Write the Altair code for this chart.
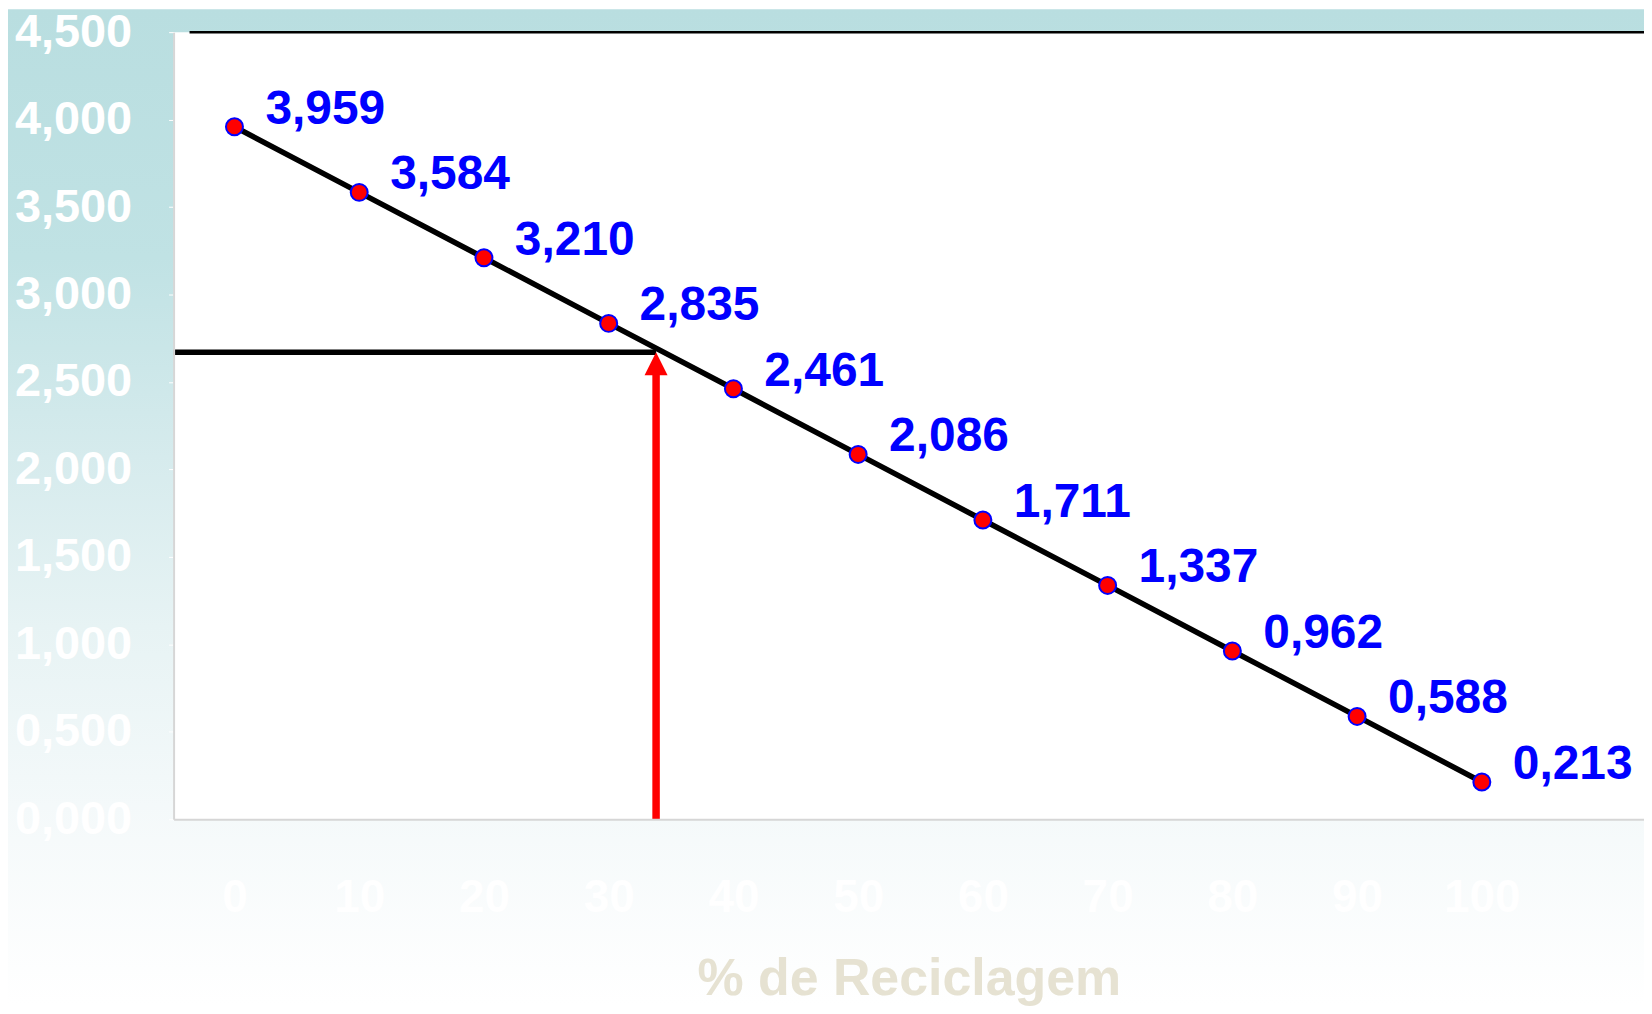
import altair as alt
import pandas as pd

# ---- data ----
reciclagem = [0, 10, 20, 30, 40, 50, 60, 70, 80, 90, 100]
valores = [3.959, 3.584, 3.210, 2.835, 2.461, 2.086, 1.711, 1.337, 0.962, 0.588, 0.213]
y_ticks = [0, 0.5, 1.0, 1.5, 2.0, 2.5, 3.0, 3.5, 4.0, 4.5]
x_ticks = [0, 10, 20, 30, 40, 50, 60, 70, 80, 90, 100]
x_domain = [-4.88, 113.0]
y_domain = [0, 4.5]
ref_x = 33.8   # % de reciclagem marcado pela seta
ref_y = 2.67   # valor lido no eixo

W, H = 1474, 789
PAD = {"left": 166, "top": 23, "right": 0, "bottom": 186}

df = pd.DataFrame({"x": reciclagem, "v": valores})
ref_h = pd.DataFrame({"x": [x_domain[0]], "x2": [ref_x], "y": [ref_y]})
ref_v = pd.DataFrame({"x": [ref_x], "y": [0], "y2": [ref_y]})
one = pd.DataFrame({"a": [0]})

xs = alt.Scale(domain=x_domain, nice=False, zero=False)
ys = alt.Scale(domain=y_domain, nice=False, zero=True)

FONT = "Liberation Sans"

x_axis = alt.Axis(
    values=x_ticks, ticks=False, grid=False, zindex=1,
    labelColor="#ffffff", labelFont=FONT, labelFontSize=46, labelFontWeight="bold",
    labelPadding=92, labelBaseline="alphabetic",
    domainColor="#d6d6d6", domainWidth=2,
    title="% de Reciclagem", titleColor="#E6E2D2", titleFont=FONT, titleFontSize=52,
    titleFontWeight="bold", titleBaseline="alphabetic", titleY=176,
)
y_axis = alt.Axis(
    values=y_ticks, grid=False, zindex=1,
    labelExpr="replace(format(datum.value, '.3f'), '.', ',')",
    labelColor="#ffffff", labelFont=FONT, labelFontSize=47, labelFontWeight="bold",
    labelPadding=37, tickSize=5, tickColor="#ffffff",
    domainColor="#d6d6d6", domainWidth=2, title=None,
)

grad = alt.LinearGradient(
    gradient="linear", x1=0, x2=0, y1=0, y2=1,
    stops=[
        alt.GradientStop(color="#B9DEE0", offset=0),
        alt.GradientStop(color="#C0E2E4", offset=0.25),
        alt.GradientStop(color="#D6EBED", offset=0.45),
        alt.GradientStop(color="#E7F3F4", offset=0.62),
        alt.GradientStop(color="#F4F9FA", offset=0.8),
        alt.GradientStop(color="#FFFFFF", offset=1),
    ],
)

bg = alt.Chart(one).mark_rect(color=grad).encode(
    x=alt.value(-PAD["left"]), x2=alt.value(W + 10),
    y=alt.value(-PAD["top"]), y2=alt.value(H + PAD["bottom"]),
)
plot_bg = alt.Chart(one).mark_rect(color="#ffffff").encode(
    x=alt.value(0), x2=alt.value(W + 10), y=alt.value(0), y2=alt.value(H),
)
top_border = alt.Chart(one).mark_rule(color="#000000", strokeWidth=2.5).encode(
    x=alt.value(16), x2=alt.value(W + 10), y=alt.value(0),
)

base = alt.Chart(df)
line = base.mark_line(color="#000000", strokeWidth=5.5).encode(
    x=alt.X("x:Q", scale=xs, axis=x_axis),
    y=alt.Y("v:Q", scale=ys, axis=y_axis),
)
pts = base.mark_point(
    shape="circle", filled=True, fill="#FF0000", stroke="#0000FF",
    strokeWidth=2, size=290, opacity=1, fillOpacity=1,
).encode(x=alt.X("x:Q", scale=xs), y=alt.Y("v:Q", scale=ys))
labels = base.transform_calculate(
    lab="replace(format(datum.v, '.3f'), '.', ',')"
).mark_text(
    align="left", baseline="middle", dx=31, dy=-17, font=FONT, fontSize=48,
    fontWeight="bold", color="#0000FF",
).encode(x=alt.X("x:Q", scale=xs), y=alt.Y("v:Q", scale=ys), text="lab:N")

hline = alt.Chart(ref_h).mark_rule(color="#000000", strokeWidth=5.5).encode(
    x=alt.X("x:Q", scale=xs), x2="x2:Q", y=alt.Y("y:Q", scale=ys),
)
shaft = alt.Chart(ref_v).mark_rule(color="#FF0000", strokeWidth=7.5, y2Offset=18).encode(
    x=alt.X("x:Q", scale=xs), y=alt.Y("y:Q", scale=ys), y2="y2:Q",
)
head = alt.Chart(ref_v).mark_point(
    shape="M0,-1L1,1L-1,1Z", filled=True, color="#FF0000", size=529, opacity=1,
    yOffset=11.5,
).encode(x=alt.X("x:Q", scale=xs), y=alt.Y("y2:Q", scale=ys))

chart = alt.layer(
    bg, plot_bg, top_border, hline, line, shaft, head, pts, labels
).properties(
    width=W, height=H, padding=PAD,
    autosize=alt.AutoSizeParams(type="none"),
).configure_view(stroke=None)

chart.save("out.html", embed_options={"renderer": "svg", "actions": False})
